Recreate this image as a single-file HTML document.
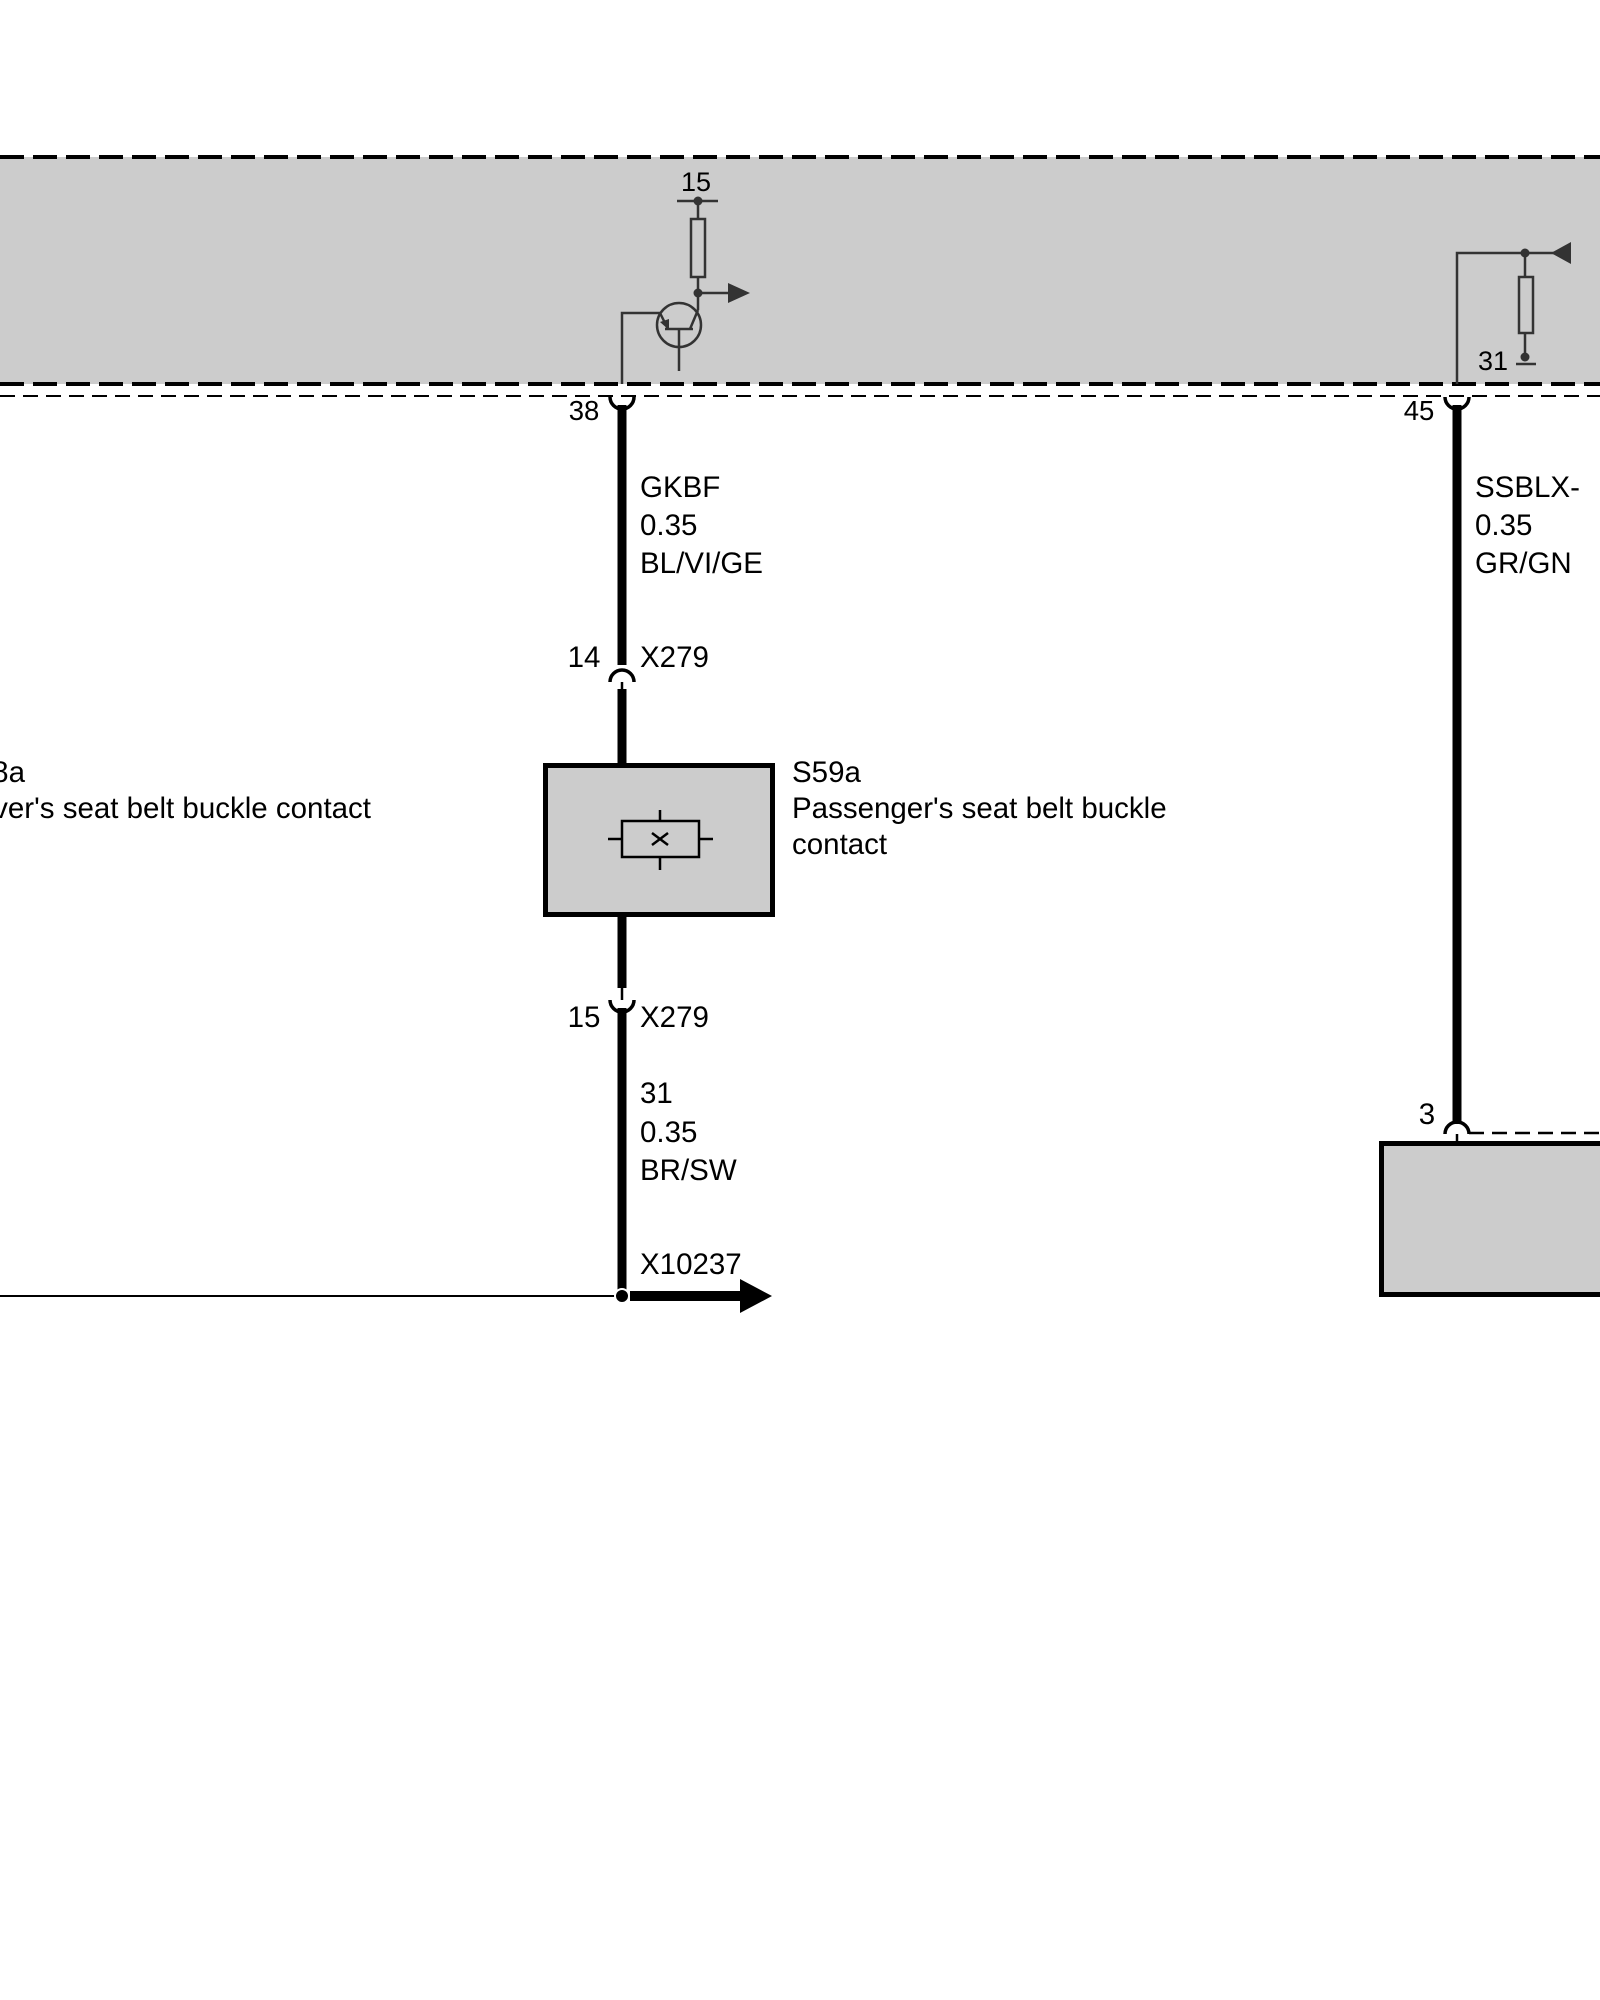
<!DOCTYPE html>
<html><head><meta charset="utf-8"><style>html,body{margin:0;padding:0;background:#fff;width:1600px;height:2000px;overflow:hidden}</style></head>
<body>
<svg width="1600" height="2000" xmlns="http://www.w3.org/2000/svg" font-family="Liberation Sans, Arial, sans-serif" font-size="29.5" fill="#000">
<rect x="0" y="157" width="1600" height="227" fill="#cccccc"/>
<line x1="0" y1="157" x2="1600" y2="157" stroke="#000" stroke-width="4" stroke-dasharray="24,9"/>
<line x1="0" y1="384" x2="1600" y2="384" stroke="#000" stroke-width="4" stroke-dasharray="24,9"/>
<line x1="0" y1="396" x2="1600" y2="396" stroke="#000" stroke-width="2" stroke-dasharray="15,8"/>

<g stroke="#333" stroke-width="2.5" fill="none">
<line x1="677" y1="201" x2="718" y2="201"/>
<line x1="698" y1="201" x2="698" y2="219"/>
<rect x="691" y="219" width="14" height="58" fill="#cccccc"/>
<line x1="698" y1="277" x2="698" y2="310"/>
<line x1="698" y1="310" x2="690" y2="329"/>
<line x1="698" y1="293" x2="730" y2="293"/>
<circle cx="679" cy="325" r="22"/>
<line x1="665" y1="329" x2="693" y2="329"/>
<line x1="679" y1="329" x2="679" y2="371"/>
<polyline points="622,384 622,313 660,313 668,329"/>
</g>
<polygon points="660,322 669,330 669,319" fill="#333"/>
<circle cx="698" cy="201" r="4.5" fill="#333"/>
<circle cx="698" cy="293" r="4.5" fill="#333"/>
<polygon points="728,283 750,293 728,303" fill="#333"/>
<text x="696" y="191" text-anchor="middle" font-size="27">15</text>

<g stroke="#333" stroke-width="2.5" fill="none">
<polyline points="1457,384 1457,253 1555,253"/>
<line x1="1525" y1="253" x2="1525" y2="277"/>
<rect x="1519" y="277" width="14" height="56" fill="#cccccc"/>
<line x1="1525" y1="333" x2="1525" y2="357"/>
<line x1="1516" y1="364" x2="1536" y2="364"/>
</g>
<circle cx="1525" cy="253" r="4.5" fill="#333"/>
<circle cx="1525" cy="357" r="4.5" fill="#333"/>
<polygon points="1551,253 1571,242 1571,264" fill="#333"/>
<text x="1493" y="370" text-anchor="middle" font-size="27">31</text>

<g stroke="#000" fill="none">
<path d="M610,397 A12,12 0 0 0 634,397" stroke-width="3.5"/>
<line x1="622" y1="405" x2="622" y2="665" stroke-width="9"/>
<path d="M610,682 A12,12 0 0 1 634,682" stroke-width="3.5"/>
<line x1="622" y1="682" x2="622" y2="690" stroke-width="2.5"/>
<line x1="622" y1="689" x2="622" y2="763" stroke-width="9"/>
<line x1="622" y1="916" x2="622" y2="988" stroke-width="9"/>
<line x1="622" y1="988" x2="622" y2="1000" stroke-width="2.5"/>
<path d="M610,1000 A12,12 0 0 0 634,1000" stroke-width="3.5"/>
<line x1="622" y1="1008" x2="622" y2="1295" stroke-width="9"/>
<line x1="0" y1="1296" x2="620" y2="1296" stroke-width="2"/>
<line x1="630" y1="1296" x2="742" y2="1296" stroke-width="10"/>
</g>
<polygon points="740,1279 772,1296 740,1313" fill="#000"/>
<circle cx="622" cy="1296" r="7" fill="#000" stroke="#fff" stroke-width="2"/>

<rect x="545.5" y="765.5" width="227" height="149" fill="#cccccc" stroke="#000" stroke-width="5"/>
<g stroke="#000" stroke-width="2.5" fill="none">
<rect x="622" y="821" width="77" height="36"/>
<line x1="608" y1="839" x2="622" y2="839"/><line x1="699" y1="839" x2="713" y2="839"/>
<line x1="660" y1="810" x2="660" y2="821"/><line x1="660" y1="857" x2="660" y2="870"/>
<line x1="652" y1="833" x2="668" y2="845"/><line x1="652" y1="845" x2="668" y2="833"/>
</g>

<g stroke="#000" fill="none">
<path d="M1445,397 A12,12 0 0 0 1469,397" stroke-width="3.5"/>
<line x1="1457" y1="405" x2="1457" y2="1124" stroke-width="9"/>
<path d="M1445,1134 A12,12 0 0 1 1469,1134" stroke-width="3.5"/>
<line x1="1457" y1="1134" x2="1457" y2="1141" stroke-width="2.5"/>
<line x1="1469" y1="1133" x2="1600" y2="1133" stroke-width="2.5" stroke-dasharray="15,8"/>
</g>
<rect x="1381.5" y="1143.5" width="230" height="151" fill="#cccccc" stroke="#000" stroke-width="5"/>

<text x="584" y="420" text-anchor="middle" font-size="27.5">38</text>
<text x="640" y="497">GKBF</text>
<text x="640" y="535">0.35</text>
<text x="640" y="573">BL/VI/GE</text>
<text x="584" y="667" text-anchor="middle">14</text>
<text x="640" y="667">X279</text>
<text x="792" y="782">S59a</text>
<text x="792" y="818">Passenger's seat belt buckle</text>
<text x="792" y="854">contact</text>
<text x="25" y="782" text-anchor="end">S58a</text>
<text x="371" y="818" text-anchor="end">Driver's seat belt buckle contact</text>
<text x="584" y="1027" text-anchor="middle">15</text>
<text x="640" y="1027">X279</text>
<text x="640" y="1103">31</text>
<text x="640" y="1142">0.35</text>
<text x="640" y="1180">BR/SW</text>
<text x="640" y="1274">X10237</text>
<text x="1419" y="420" text-anchor="middle" font-size="27.5">45</text>
<text x="1475" y="497">SSBLX-</text>
<text x="1475" y="535">0.35</text>
<text x="1475" y="573">GR/GN</text>
<text x="1427" y="1124" text-anchor="middle">3</text>
</svg>
</body></html>
